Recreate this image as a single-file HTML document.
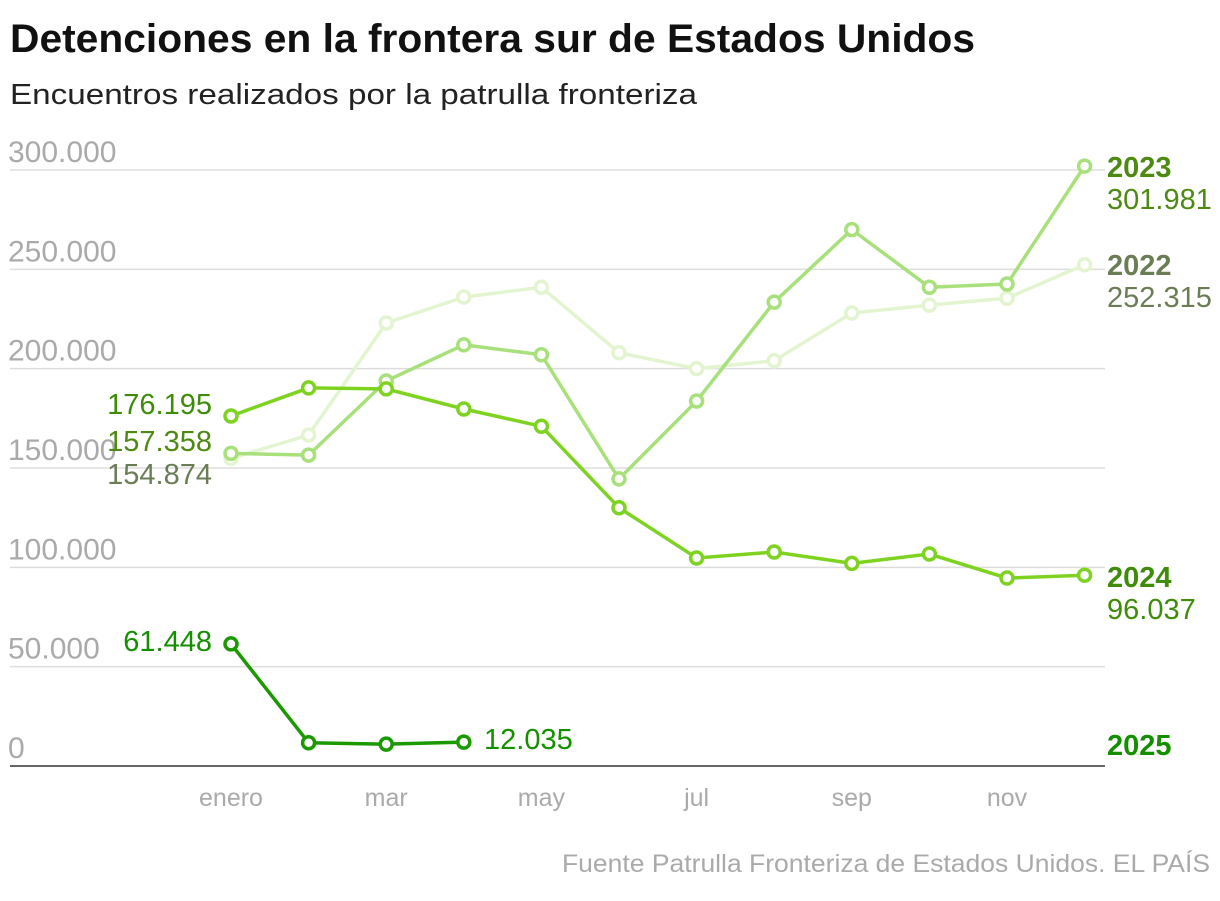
<!DOCTYPE html>
<html><head><meta charset="utf-8"><style>
body{margin:0;background:#fff;font-family:"Liberation Sans",sans-serif;}
svg text{font-family:"Liberation Sans",sans-serif;}
</style></head><body>
<svg width="1220" height="896" xmlns="http://www.w3.org/2000/svg" id="chart">
<text x="10" y="52" font-size="40" font-weight="bold" fill="#111" textLength="965" lengthAdjust="spacingAndGlyphs">Detenciones en la frontera sur de Estados Unidos</text>
<text x="10" y="104" font-size="29" fill="#222" textLength="687" lengthAdjust="spacingAndGlyphs">Encuentros realizados por la patrulla fronteriza</text>
<text x="1210" y="872" font-size="25" fill="#aaa" text-anchor="end" textLength="648" lengthAdjust="spacingAndGlyphs">Fuente Patrulla Fronteriza de Estados Unidos. EL PAÍS</text>
<g id="grid"></g><g id="xl"></g><g id="series"></g><g id="labels"></g>
</svg>
<script>
const months=["enero","feb","mar","abr","may","jun","jul","ago","sep","oct","nov","dic"];
const xTickLabels=["enero","","mar","","may","","jul","","sep","","nov",""];
const yTicks=[0,50000,100000,150000,200000,250000,300000];
const s2022=[154874,166600,223000,236000,241000,208000,200000,204000,228000,232000,235500,252315];
const s2023=[157358,156500,193800,212000,207000,144500,183700,233500,270000,241000,242600,301981];
const s2024=[176195,190300,189800,179700,171000,130000,104700,107700,102000,106700,94600,96037];
const s2025=[61448,11700,11000,12035];
const NS="http://www.w3.org/2000/svg";
const X=i=>231+i*77.6;
const Y=v=>766-v*596/300000;
const fmt=v=>v.toLocaleString('de-DE');
function mk(tag,attrs,parent,text){const e=document.createElementNS(NS,tag);for(const k in attrs)e.setAttribute(k,attrs[k]);if(text!==undefined)e.textContent=text;document.getElementById(parent).appendChild(e);return e;}
yTicks.forEach(t=>{
  const l=mk('line',{x1:10,x2:1105,y1:Y(t),y2:Y(t),stroke:t===0?'#333':'#ddd','stroke-width':1.5},'grid');
  
  
  const tx=mk('text',{x:8,y:Y(t)-8,'font-size':30,fill:'#aaa'},'grid',t===0?'0':fmt(t));
  
  
});
xTickLabels.forEach((m,i)=>{if(!m)return;
  const t=mk('text',{x:X(i),y:806,'font-size':25,fill:'#aaa','text-anchor':'middle'},'xl',m);
  
  
});
function series(data,color,name){
  const p=mk('polyline',{points:data.map((v,i)=>X(i)+','+Y(v)).join(' '),fill:'none',stroke:color,'stroke-width':3.5},'series');
  
  
  data.forEach((v,i)=>{
    const c=mk('circle',{cx:X(i),cy:Y(v),r:6,fill:'#fff',stroke:color,'stroke-width':3.5},'series');
    
    
  });
}
series(s2022,'#e3f5d0','series-2022');
series(s2023,'#a8e07c','series-2023');
series(s2024,'#7ed321','series-2024');
series(s2025,'#1a9a00','series-2025');
function lab(x,y,txt,col,bold,anchor,name){
  const t=mk('text',{x:x,y:y,'font-size':29,fill:col,'font-weight':bold?'bold':'normal','text-anchor':anchor},'labels',txt);
  
  
}
lab(1107,177,'2023','#4e8a12',true,'start','label-2023');
lab(1107,209,fmt(s2023[11]),'#4e8a12',false,'start','value-2023-end');
lab(1107,275,'2022','#6b7d55',true,'start','label-2022');
lab(1107,307,fmt(s2022[11]),'#6b7d55',false,'start','value-2022-end');
lab(1107,587,'2024','#3e8c0a',true,'start','label-2024');
lab(1107,619,fmt(s2024[11]),'#3e8c0a',false,'start','value-2024-end');
lab(1107,755,'2025','#138f00',true,'start','label-2025');
lab(212,414,fmt(s2024[0]),'#3e8c0a',false,'end','value-2024-start');
lab(212,451,fmt(s2023[0]),'#4e8a12',false,'end','value-2023-start');
lab(212,484,fmt(s2022[0]),'#6b7d55',false,'end','value-2022-start');
lab(212,651,fmt(s2025[0]),'#138f00',false,'end','value-2025-start');
lab(484,749,fmt(s2025[3]),'#138f00',false,'start','value-2025-last');
</script>
</body></html>
